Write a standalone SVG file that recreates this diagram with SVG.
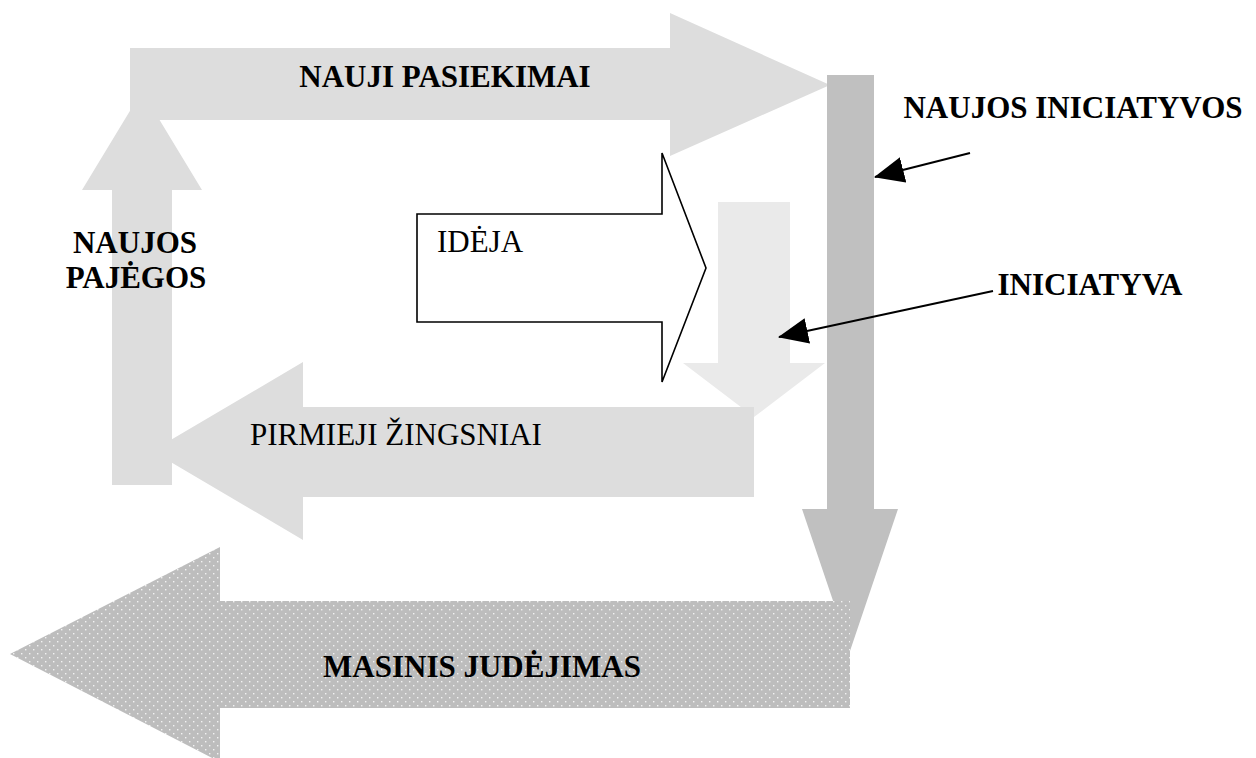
<svg xmlns="http://www.w3.org/2000/svg" width="1256" height="758" viewBox="0 0 1256 758">
<style>
.light{fill:#dddddd}
.lighter{fill:#eaeaea}
.dark{fill:#c0c0c0}
text{font-family:'Liberation Serif','DejaVu Serif',serif;font-size:31px;fill:#000}
.b{font-weight:bold}
.conn{stroke:#000;stroke-width:2;fill:none}
</style>
<defs>
<pattern id="dots" width="8" height="8" patternUnits="userSpaceOnUse">
<rect width="8" height="8" fill="#bdbdbd"/>
<rect x="1" y="1" width="1.4" height="1.4" fill="#f2f2f2"/>
<rect x="5" y="5" width="1.4" height="1.4" fill="#f2f2f2"/>
</pattern>
<marker id="ah" markerUnits="userSpaceOnUse" markerWidth="30" markerHeight="26" refX="29" refY="13" orient="auto">
<path d="M0,0 L30,13 L0,26 Z" fill="#000"/>
</marker>
</defs>
<g id="naujos-pajegos">
<polygon class="light" points="112,485 112,190 82,190 142,91 202,190 172,190 172,485"/>
</g>
<g id="nauji-pasiekimai">
<polygon class="light" points="130,48 670,48 670,13 830,85 670,156 670,120 130,120"/>
<text class="b" x="445" y="87" text-anchor="middle" font-family="Liberation Serif, serif">NAUJI PASIEKIMAI</text>
</g>
<g id="iniciatyva-arrow">
<polygon class="lighter" points="718,202 790,202 790,363 825,363 754,417 683,363 718,363"/>
</g>
<g id="pirmieji-zingsniai">
<polygon class="light" points="754,407 303,407 303,362 152,451 303,540 303,497 754,497"/>
<rect class="light" x="112" y="380" width="60" height="105"/>
<text x="396" y="445" text-anchor="middle" font-family="Liberation Serif, serif">PIRMIEJI ŽINGSNIAI</text>
</g>
<g id="ideja">
<polygon points="417,214 662,214 662,153 706,268 662,382 662,322 417,322" fill="#fff" stroke="#000" stroke-width="1.6"/>
<text x="437" y="252" font-family="Liberation Serif, serif">IDĖJA</text>
</g>
<g id="naujos-iniciatyvos-arrow">
<polygon class="dark" points="827,75 874,75 874,509 898,509 850,651 802,509 827,509"/>
</g>
<g id="masinis-judejimas">
<polygon fill="url(#dots)" points="850,601 220,601 220,547 10,654 220,762 220,708 850,708"/>
<text class="b" x="482" y="677" text-anchor="middle" font-family="Liberation Serif, serif">MASINIS JUDĖJIMAS</text>
</g>
<g id="label-naujos-pajegos">
<text class="b" x="135" y="253" text-anchor="middle" font-family="Liberation Serif, serif">NAUJOS</text>
<text class="b" x="136" y="288" text-anchor="middle" font-family="Liberation Serif, serif">PAJĖGOS</text>
</g>
<g id="label-naujos-iniciatyvos">
<text class="b" x="1073" y="118" text-anchor="middle" font-family="Liberation Serif, serif">NAUJOS INICIATYVOS</text>
</g>
<g id="label-iniciatyva">
<text class="b" x="1090" y="295" text-anchor="middle" font-family="Liberation Serif, serif">INICIATYVA</text>
</g>
<g id="connectors">
<line class="conn" x1="970" y1="153" x2="875" y2="177" marker-end="url(#ah)"/>
<line class="conn" x1="993" y1="291" x2="779" y2="337" marker-end="url(#ah)"/>
</g>
</svg>
